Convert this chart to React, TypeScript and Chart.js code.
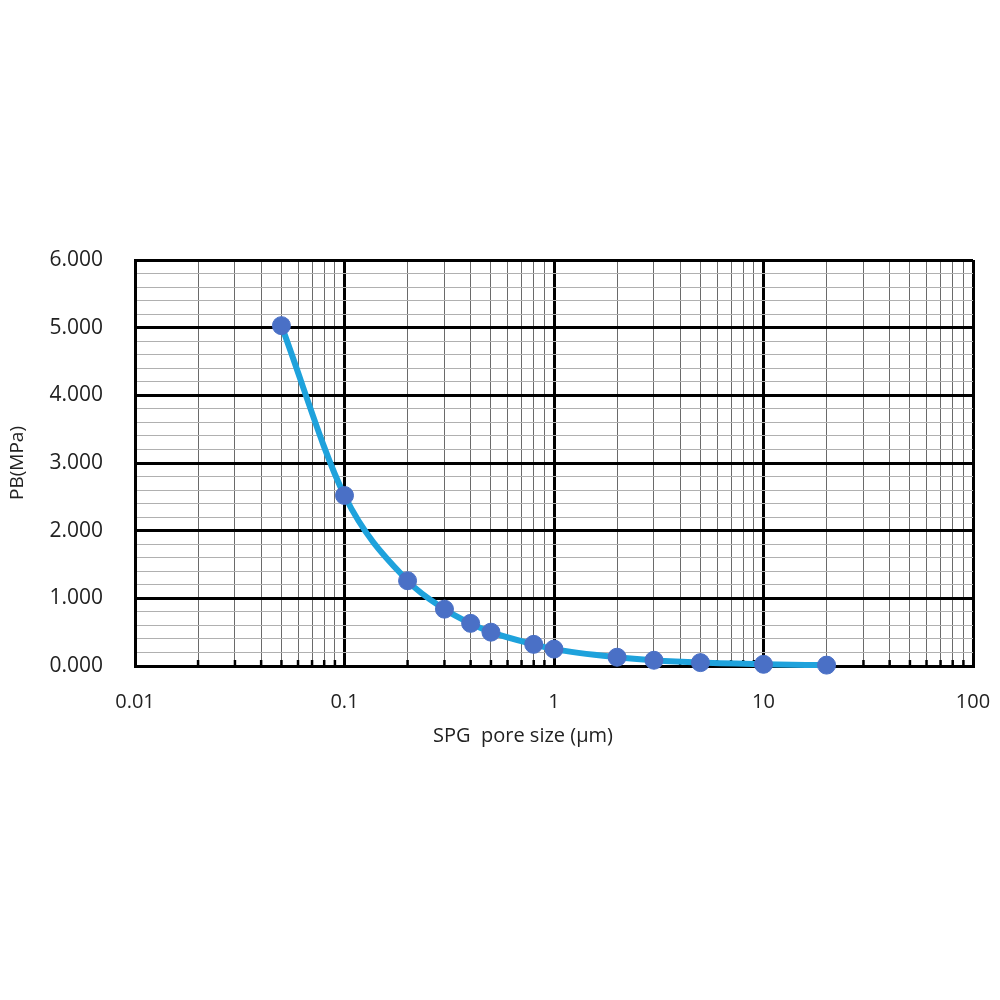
import React, { useEffect, useRef } from "react";
import { Chart, registerables } from "chart.js";

Chart.register(...registerables);

const poreSizes = [0.05, 0.1, 0.2, 0.3, 0.4, 0.5, 0.8, 1, 2, 3, 5, 10, 20];
const pressures = [5.03, 2.52, 1.26, 0.84, 0.63, 0.5, 0.32, 0.25, 0.13, 0.085, 0.05, 0.025, 0.013];
const xTickValues = [
  0.01, 0.02, 0.03, 0.04, 0.05, 0.06, 0.07, 0.08, 0.09,
  0.1, 0.2, 0.3, 0.4, 0.5, 0.6, 0.7, 0.8, 0.9,
  1, 2, 3, 4, 5, 6, 7, 8, 9,
  10, 20, 30, 40, 50, 60, 70, 80, 90, 100,
];
const xMajorLabels = ["0.01", "0.1", "1", "10", "100"];
const xTitle = "SPG  pore size (µm)";
const yTitle = "PB(MPa)";

const isMajorX = (v: number) => {
  const l = Math.log10(v);
  return Math.abs(l - Math.round(l)) < 1e-6;
};
const isMajorY = (v: number) => Math.abs(v - Math.round(v)) < 1e-6;

export default function App() {
  const ref = useRef<HTMLCanvasElement>(null);
  useEffect(() => {
    if (!ref.current) return;
    const extras = {
      id: "extras",
      beforeDatasetsDraw(chart: any) {
        const ctx = chart.ctx;
        const xs = chart.scales.x;
        const area = chart.chartArea;
        ctx.save();
        ctx.strokeStyle = "#000";
        ctx.lineWidth = 2.5;
        xTickValues.forEach((v) => {
          if (isMajorX(v)) return;
          const px = xs.getPixelForValue(v);
          ctx.beginPath();
          ctx.moveTo(px, area.bottom);
          ctx.lineTo(px, area.bottom - 6);
          ctx.stroke();
        });
        ctx.restore();
      },
      afterDraw(chart: any) {
        const ctx = chart.ctx;
        const area = chart.chartArea;
        ctx.save();
        ctx.fillStyle = "#222";
        ctx.font = "20px 'Open Sans'";
        ctx.textAlign = "center";
        ctx.textBaseline = "middle";
        ctx.fillText(xTitle, area.left + (area.right - area.left) * 0.463, area.bottom + 70);
        ctx.restore();
      },
    };
    const chart = new Chart(ref.current, {
      type: "line",
      data: {
        datasets: [
          {
            data: poreSizes.map((x, i) => ({ x, y: pressures[i] })),
            borderColor: "#1ea2dc",
            borderWidth: 6,
            backgroundColor: "#4a70c6",
            pointBackgroundColor: "#4a70c6",
            pointBorderColor: "#4a70c6",
            pointRadius: 9,
            pointBorderWidth: 1,
            cubicInterpolationMode: "monotone",
            fill: false,
            clip: false,
          },
        ],
      },
      options: {
        animation: false,
        responsive: true,
        maintainAspectRatio: false,
        layout: { padding: { left: 0, top: 260, right: 27, bottom: 0 } },
        plugins: { legend: { display: false }, tooltip: { enabled: false } },
        scales: {
          x: {
            type: "logarithmic",
            min: 0.01,
            max: 100,
            afterBuildTicks: (scale: any) => {
              scale.ticks = xTickValues.map((v) => ({ value: v, major: isMajorX(v) }));
            },
            afterFit: (scale: any) => {
              scale.height = 334;
              scale.paddingLeft = 0;
              scale.paddingRight = 0;
            },
            ticks: {
              autoSkip: false,
              maxRotation: 0,
              padding: 24,
              color: "#222",
              font: { family: "'Open Sans'", size: 20 },
              callback: (v: any) => {
                const n = Number(v);
                if (!isMajorX(n)) return "";
                const idx = Math.round(Math.log10(n)) + 2;
                return xMajorLabels[idx];
              },
            },
            grid: {
              drawTicks: false,
              color: (c: any) => (c.tick && isMajorX(c.tick.value) ? "#000" : "#6a6a6a"),
              lineWidth: (c: any) => (c.tick && isMajorX(c.tick.value) ? 3 : 1),
            },
            border: { display: true, color: "#000", width: 3 },
          },
          y: {
            min: 0,
            max: 6,
            afterFit: (scale: any) => {
              scale.width = 135;
              scale.paddingTop = 0;
              scale.paddingBottom = 0;
            },
            ticks: {
              stepSize: 0.2,
              autoSkip: false,
              padding: 32,
              color: "#222",
              font: { family: "'Open Sans'", size: 21 },
              callback: (v: any) => {
                const n = Number(v);
                return isMajorY(n) ? n.toFixed(3) : "";
              },
            },
            grid: {
              drawTicks: false,
              color: (c: any) => (c.tick && isMajorY(c.tick.value) ? "#000" : "#b0b0b0"),
              lineWidth: (c: any) => (c.tick && isMajorY(c.tick.value) ? 3 : 1),
            },
            border: { display: true, color: "#000", width: 3 },
            title: {
              display: true,
              text: yTitle,
              color: "#222",
              font: { family: "'Open Sans'", size: 19 },
              padding: { top: 6, bottom: 0 },
            },
          },
        },
      },
      plugins: [extras],
    } as any);
    return () => chart.destroy();
  }, []);
  return (
    <div style={{ position: "absolute", left: 0, top: 0, width: 1000, height: 1000, background: "#fff" }}>
      <canvas ref={ref} />
    </div>
  );
}
